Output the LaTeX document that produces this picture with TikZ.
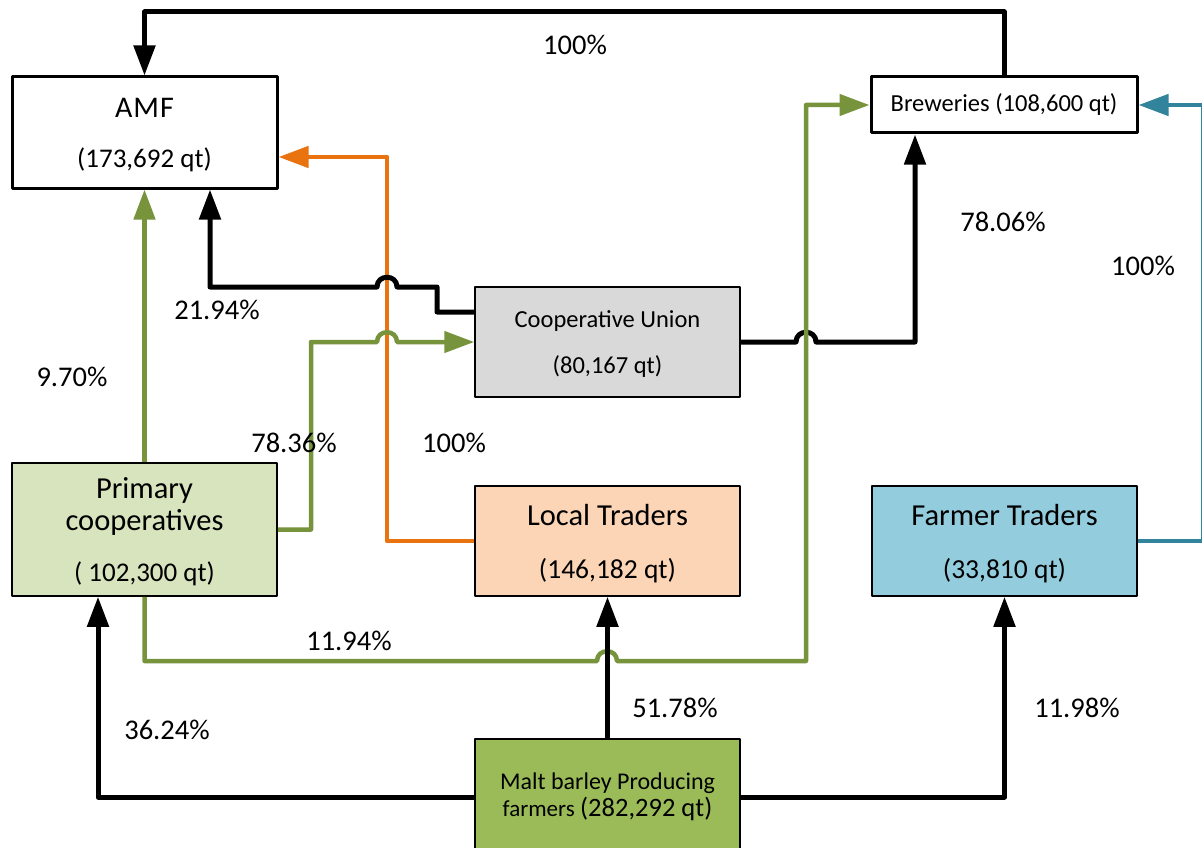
\documentclass[tikz,border=0pt]{standalone}
\usepackage{fontspec}
\setmainfont{Carlito}
\usetikzlibrary{arrows.meta,calc}
\definecolor{gline}{HTML}{77933C}
\definecolor{oline}{HTML}{E8730F}
\definecolor{tline}{HTML}{31849B}
\definecolor{cufill}{HTML}{D9D9D9}
\definecolor{pcfill}{HTML}{D7E4BD}
\definecolor{ltfill}{HTML}{FBD5B5}
\definecolor{ftfill}{HTML}{93CDDD}
\definecolor{mfill}{HTML}{9BBB59}
\newcommand\myfs[2]{\fontsize{#1}{#2}\selectfont}
\begin{document}
\begin{tikzpicture}[x=1pt,y=-1pt,line join=round,
  thickbox/.style={draw=black,line width=3pt,minimum width=265pt,inner sep=0pt,align=center},
  thinbox/.style={draw=black,line width=1.5pt,minimum width=265pt,inner sep=0pt,align=center},
  lab/.style={font=\myfs{28.5}{32},inner sep=0pt},
  tip/.style={-{Triangle[length=30pt,width=21pt]}},
  blk/.style={draw=black,line width=5pt},
  grn/.style={draw=gline,line width=4.5pt},
  org/.style={draw=oline,line width=4.5pt},
  tel/.style={draw=tline,line width=4.5pt}]
\useasboundingbox (0,0) rectangle (1202,848);
\fill[white] (0,0) rectangle (1202,848);

% boxes
\node[thickbox,minimum height=111pt,text depth=0pt,font=\myfs{27}{31}] (amf) at (144.5,132.5)
  {{\myfs{30}{31}A\kern1ptM\kern1ptF}\\[19pt](173,692 qt)};
\node[thickbox,minimum height=56pt,minimum width=266pt,font=\myfs{24.5}{29}] (br) at (1004,105) {Breweries (108,600 qt)};
\node[thinbox,fill=cufill,minimum height=110pt,text depth=0pt,font=\myfs{24.5}{29}] (cu) at (607.5,342) {Cooperative Union\\[17pt](80,167 qt)};
\node[thinbox,fill=pcfill,minimum height=133pt,text depth=0pt,font=\myfs{27}{32}] (pc) at (144.5,529.5)
  {{\myfs{30.5}{32}Primary}\\{\myfs{30.5}{32}cooperatives}\\[19pt]( 102,300 qt)};
\node[thinbox,fill=ltfill,minimum height=110pt,text depth=0pt,font=\myfs{27.5}{33}] (lt) at (607.5,541)
  {{\myfs{30.5}{33}Local Traders}\\[20pt](146,182 qt)};
\node[thinbox,fill=ftfill,minimum height=110pt,text depth=0pt,font=\myfs{27.5}{33}] (ft) at (1004.5,541)
  {{\myfs{30.5}{33}Farmer Traders}\\[20pt](33,810 qt)};
\node[thinbox,fill=mfill,minimum height=116pt,font=\myfs{24}{27}] (mb) at (607.5,797)
  {Malt barley Producing\\{\myfs{23}{27}farmers} {\myfs{26.5}{27}(282,292 qt)}};

% orange: local traders -> AMF
\draw[org,tip] (lt.west) -- (387,541) -- (387,157) -- ([yshift=-24.5pt]amf.east);

% black: breweries -> AMF (top loop)
\draw[blk,tip] (br.north) -- (1004,12) -- (144.5,12) -- (amf.north);

% black: cooperative union -> AMF
\draw[blk,tip] ([yshift=30pt]cu.west) -- (437,312) -- (437,287) -- (397,287)
  .. controls (397,274) and (377,274) .. (377,287) -- (210,287) -- ([xshift=65.5pt]amf.south);

% green: primary coops -> AMF
\draw[grn,tip] (pc.north) -- (amf.south);

% green: primary coops -> cooperative union
\draw[grn,tip] (pc.east) -- (311,529.5) -- (311,342) -- (377,342)
  .. controls (377,329) and (397,329) .. (397,342) -- (cu.west);

% black: cooperative union -> breweries
\draw[blk,tip] (cu.east) -- (796,342) .. controls (796,329) and (816,329) .. (816,342)
  -- (915,342) -- ([xshift=-89pt]br.south);

% green: primary coops -> breweries
\draw[grn,tip] (pc.south) -- (144.5,661) -- (597,661) .. controls (597,648) and (617,648) .. (617,661)
  -- (806,661) -- (806,105) -- (br.west);

% black: farmers -> primary coops, local traders, farmer traders
\draw[blk,tip] (mb.west) -- (98,797) -- ([xshift=-46.5pt]pc.south);
\draw[blk,tip] (mb.north) -- (lt.south);
\draw[blk,tip] (mb.east) -- (1004.5,797) -- (ft.south);

% teal: farmer traders -> breweries
\draw[tel,tip] (ft.east) -- (1203,541) -- (1203,105) -- (br.east);

% labels
\node[lab] (l1) at (575,45) {100\%};
\node[lab] (l2) at (217,310) {21.94\%};
\node[lab] (l3) at (72,377) {9.70\%};
\node[lab] (l4) at (294,443) {78.36\%};
\node[lab] (l5) at (454,443) {100\%};
\node[lab] (l6) at (349,641) {11.94\%};
\node[lab] (l7) at (167,730) {36.24\%};
\node[lab] (l8) at (675,708) {51.78\%};
\node[lab] (l9) at (1077,708) {11.98\%};
\node[lab] (l10) at (1003,222) {78.06\%};
\node[lab] (l11) at (1143,266) {100\%};
\end{tikzpicture}
\end{document}
